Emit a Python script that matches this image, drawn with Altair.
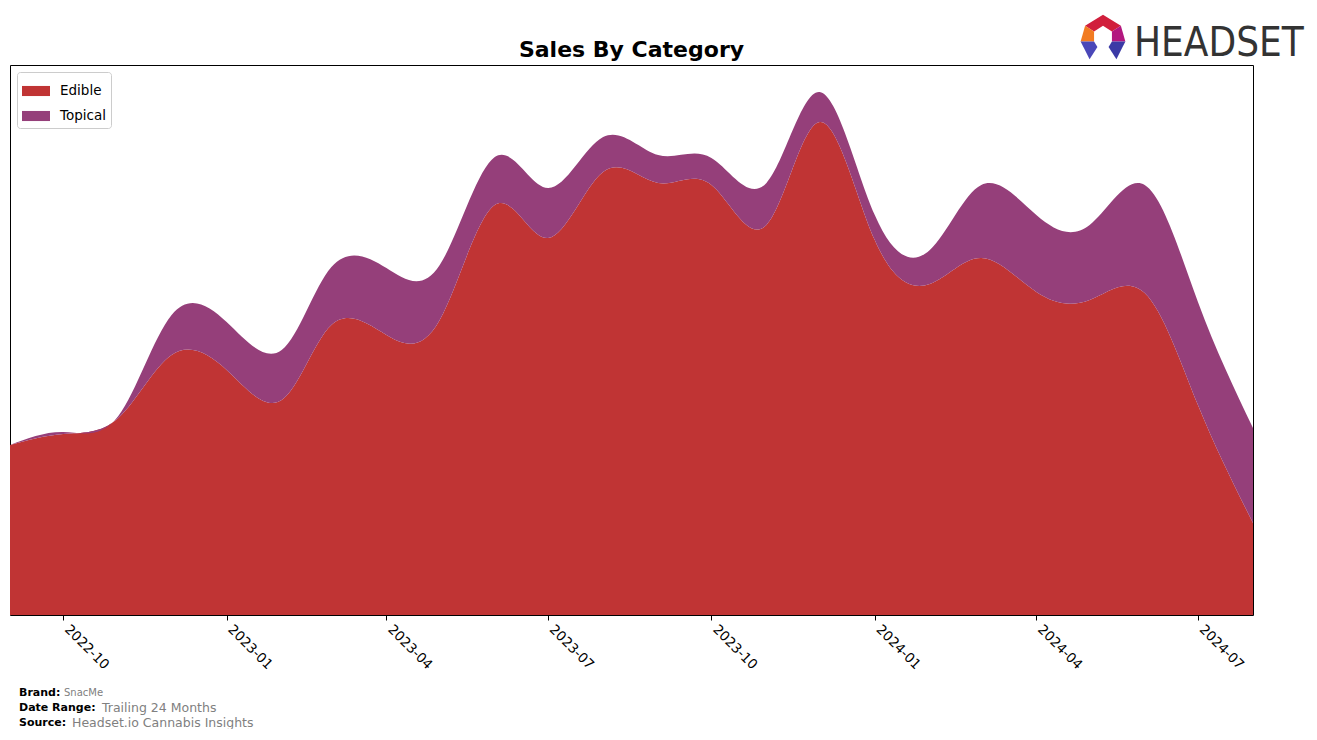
import altair as alt
import pandas as pd

months = ["2022-09-01","2022-10-01","2022-11-01","2022-12-01","2023-01-01","2023-02-01",
          "2023-03-01","2023-04-01","2023-05-01","2023-06-01","2023-07-01","2023-08-01",
          "2023-09-01","2023-10-01","2023-11-01","2023-12-01","2024-01-01","2024-02-01",
          "2024-03-01","2024-04-01","2024-05-01","2024-06-01","2024-07-01","2024-08-01"]
edible = [170, 181, 197, 260, 245, 215, 290, 280, 295, 410, 377, 443,
          432, 430, 390, 493, 375, 331, 357, 323, 315, 322, 210, 92]
topical = [0, 2, 2, 40, 48, 50, 58, 67, 55, 48, 50, 35,
           28, 27, 42, 30, 25, 34, 73, 77, 75, 108, 103, 95]
categories = ["Edible", "Topical"]
colors = ["#C03434", "#953F7A"]

rows = []
for m, e, t in zip(months, edible, topical):
    rows.append({"month": m, "category": "Edible", "sales": e})
    rows.append({"month": m, "category": "Topical", "sales": t})
df = pd.DataFrame(rows)

W, H = 1243, 550

area = alt.Chart(df).mark_area(interpolate="natural", opacity=1).encode(
    x=alt.X("month:T",
            scale=alt.Scale(domain=["2022-09-01", "2024-08-01"], nice=False),
            axis=alt.Axis(title=None, format="%Y-%m", tickCount={"interval": "month", "step": 3},
                          labelAngle=45, labelAlign="left", labelBaseline="top",
                          labelFont="DejaVu Sans", labelFontSize=13.5, labelColor="#000",
                          tickColor="#000", tickSize=5, domain=False, grid=False,
                          labelPadding=2, labelOffset=8, labelFlush=False, labelOverlap=False)),
    y=alt.Y("sales:Q", stack="zero", scale=alt.Scale(domain=[0, H], nice=False, zero=True),
            axis=None),
    color=alt.Color("category:N",
                    scale=alt.Scale(domain=categories, range=colors),
                    legend=alt.Legend(title=None, orient="none", legendX=7, legendY=7,
                                      symbolType="M-1,-0.36H1V0.36H-1Z", symbolSize=784,
                                      symbolStrokeWidth=0, labelFont="DejaVu Sans",
                                      labelFontSize=13.5, labelColor="#000",
                                      strokeColor="#cccccc", fillColor="white",
                                      cornerRadius=3, padding=5, rowPadding=4,
                                      symbolOffset=0, labelOffset=10)),
    order=alt.Order("category:N")
)

brand_lbl = ["Brand:", "Date Range:", "Source:"]
brand_val = ["SnacMe", "Trailing 24 Months", "Headset.io Cannabis Insights"]
lbl_df = pd.DataFrame({"t": brand_lbl, "y": [628, 643, 658], "xv": [54, 92, 62],
                       "v": brand_val, "fs": [10, 12.5, 12.5]})

labels = alt.Chart(lbl_df).mark_text(align="left", baseline="middle", font="DejaVu Sans",
                                     fontWeight="bold", fontSize=11, color="#000").encode(
    x=alt.value(9), y=alt.Y("y:Q", scale=None), text="t:N")
values = alt.Chart(lbl_df).mark_text(align="left", baseline="middle", font="DejaVu Sans",
                                     color="#808080").encode(
    x=alt.X("xv:Q", scale=None), y=alt.Y("y:Q", scale=None), text="v:N",
    size=alt.Size("fs:Q", scale=None, legend=None))

logo_text = alt.Chart(pd.DataFrame({"t": ["HEADSET"]})).mark_text(
    align="left", baseline="alphabetic", font="DejaVu Sans Condensed, Roboto", fontSize=40,
    fontWeight=400, color="#333333").encode(x=alt.value(1124), y=alt.value(-9), text="t:N")

pieces = pd.DataFrame({
    "p": ["a", "b", "c", "d", "e"],
    "path": [
        "M-0.8,-0.5L0,-1L0.8,-0.5L0.4,-0.25L0,-0.5L-0.4,-0.25Z",
        "M-0.8,-0.5L-0.4,-0.25L-0.4,0.2L-1,0.2Z",
        "M0.8,-0.5L1,0.2L0.4,0.2L0.4,-0.25Z",
        "M-1,0.2L-0.4,0.2L-0.25,0.45L-0.6,1Z",
        "M1,0.2L0.4,0.2L0.25,0.45L0.6,1Z",
    ],
    "c": ["#D11F3C", "#F27B21", "#B3177F", "#4A47B8", "#3B3AA6"],
})
logo_icon = alt.Chart(pieces).mark_point(filled=True, opacity=1, size=2000, strokeWidth=0).encode(
    x=alt.value(1093), y=alt.value(-28),
    shape=alt.Shape("path:N", scale=None),
    color=alt.Color("c:N", scale=None))

title = alt.Chart(pd.DataFrame({"t": ["Sales By Category"]})).mark_text(
    align="center", baseline="middle", font="DejaVu Sans", fontSize=22, fontWeight="bold",
    color="#000").encode(x=alt.value(W / 2), y=alt.value(-15), text="t:N")

chart = alt.layer(area, title, labels, values, logo_text, logo_icon).properties(
    width=W, height=H,
    padding={"left": 2, "top": 57, "right": 52, "bottom": 114},
    autosize=alt.AutoSizeParams(type="none"),
    background="white"
).configure_view(stroke="#000", strokeWidth=1)

chart.save("out.html", embed_options={"renderer": "svg", "actions": False})
